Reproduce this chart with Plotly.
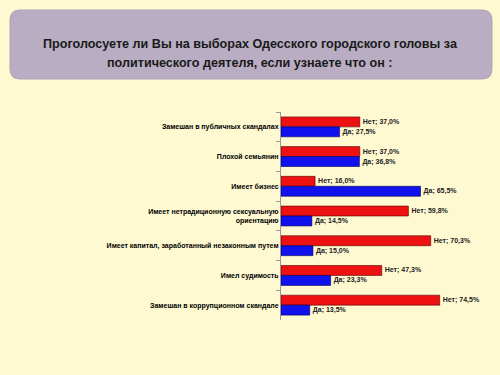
import plotly.graph_objects as go

categories = [
    "Замешан в публичных скандалах",
    "Плохой семьянин",
    "Имеет бизнес",
    "Имеет нетрадиционную сексуальную<br>ориентацию",
    "Имеет капитал, заработанный незаконным путем",
    "Имел судимость",
    "Замешан в коррупционном скандале",
]
net_values = [37.0, 37.0, 16.0, 59.8, 70.3, 47.3, 74.5]
da_values = [27.5, 36.8, 65.5, 14.5, 15.0, 23.3, 13.5]
series_names = ["Нет", "Да"]
title_lines = [
    "Проголосуете ли Вы на выборах Одесского городского головы за",
    "политического деятеля, если узнаете что он :",
]

W, H = 500, 375
L, R, T, B = 281, 6, 112, 55
PW, PH = W - L - R, H - T - B

def fmt(name, v):
    return f"{name}; {v:.1f}%".replace(".", ",")

lab_font = dict(family="Liberation Sans", size=7, color="#222222", weight="bold")

fig = go.Figure()
fig.add_trace(go.Bar(
    y=categories, x=net_values, orientation="h", name=series_names[0],
    marker=dict(color="#EE1111", line=dict(color="#550000", width=0.6)),
    text=[fmt(series_names[0], v) for v in net_values],
    textposition="outside", textfont=lab_font, cliponaxis=False,
))
fig.add_trace(go.Bar(
    y=categories, x=da_values, orientation="h", name=series_names[1],
    marker=dict(color="#1111EE", line=dict(color="#000055", width=0.6)),
    text=[fmt(series_names[1], v) for v in da_values],
    textposition="outside", textfont=lab_font, cliponaxis=False,
))

def P(x, y):
    return (x - L) / PW, (H - B - y) / PH

x0, x1, y0, y1, r = 10, 492, 10, 79, 10
def pt(x, y):
    a, b = P(x, y)
    return f"{a:.5f},{b:.5f}"
path = (f"M {pt(x0+r,y0)} L {pt(x1-r,y0)} Q {pt(x1,y0)} {pt(x1,y0+r)} "
        f"L {pt(x1,y1-r)} Q {pt(x1,y1)} {pt(x1-r,y1)} "
        f"L {pt(x0+r,y1)} Q {pt(x0,y1)} {pt(x0,y1-r)} "
        f"L {pt(x0,y0+r)} Q {pt(x0,y0)} {pt(x0+r,y0)} Z")

annotations = []
for i, line in enumerate(title_lines):
    ax, ay = P(250, 44 + 19 * i)
    annotations.append(dict(
        x=ax, y=ay, xref="paper", yref="paper", text=line, showarrow=False,
        xanchor="center", yanchor="middle",
        font=dict(family="Liberation Sans", size=12.6, color="#1a1a1a", weight="bold"),
    ))

fig.update_layout(
    width=W, height=H,
    margin=dict(l=L, r=R, t=T, b=B),
    paper_bgcolor="#FFF9D2", plot_bgcolor="#FFF9D2",
    barmode="group", bargap=0.33, bargroupgap=0,
    showlegend=False,
    shapes=[dict(type="path", path=path, xref="paper", yref="paper",
                 fillcolor="#B8ADC2", line=dict(color="#AFA3B8", width=1), layer="below")],
    annotations=annotations,
    xaxis=dict(range=[0, 100], visible=False, showgrid=False, zeroline=False),
    yaxis=dict(
        autorange="reversed", showgrid=False, zeroline=False,
        showline=True, linecolor="#999999", linewidth=1,
        ticks="outside", tickson="boundaries", ticklen=4, tickcolor="#999999",
        tickfont=dict(family="Liberation Sans", size=7, color="#000000", weight="bold"),
    ),
)

fig.write_html("out.html")
